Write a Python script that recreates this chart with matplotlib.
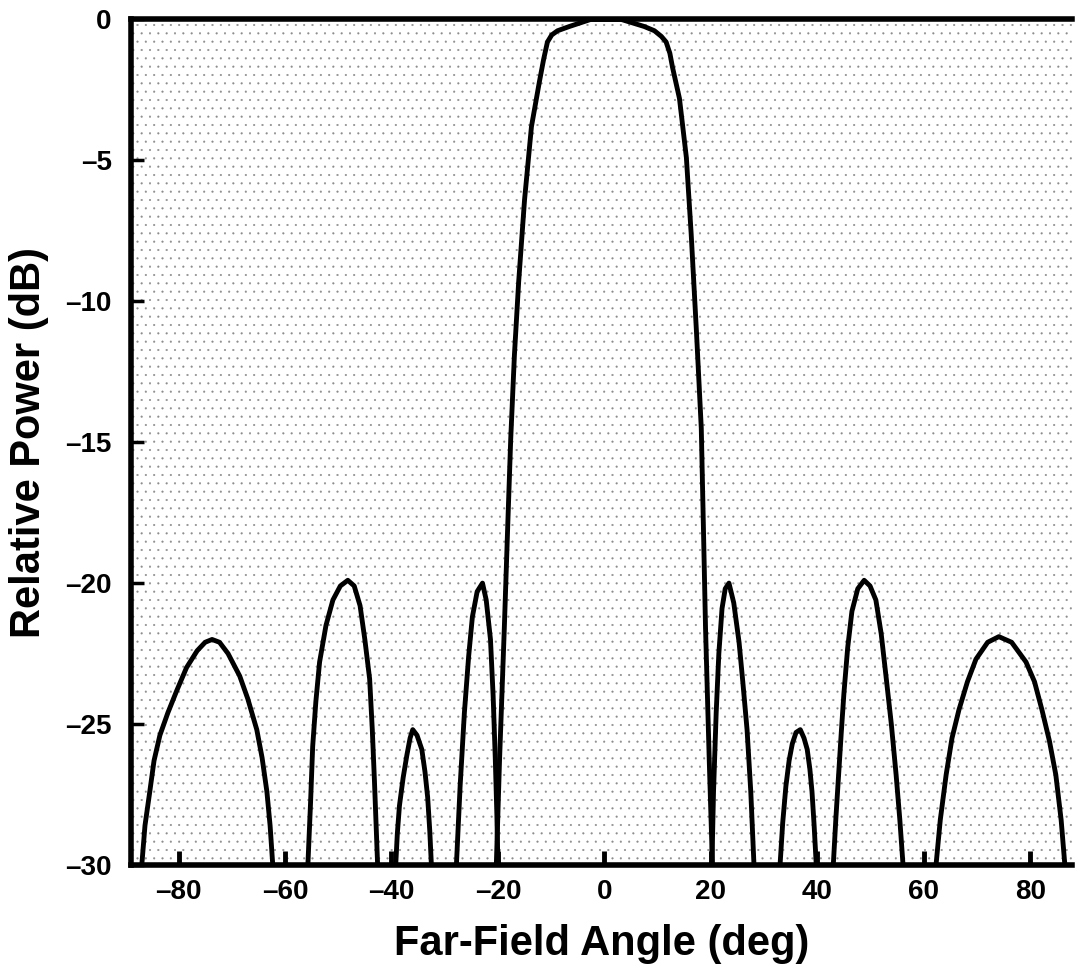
import numpy as np
import matplotlib
matplotlib.use("Agg")
from matplotlib import pyplot as plt

plt.rcParams['font.family'] = ['Liberation Sans', 'DejaVu Sans']
plt.rcParams['hatch.color'] = '0.55'
plt.rcParams['hatch.linewidth'] = 0.3

# far-field pattern, one list per lobe
main_ang = [-20.3, -19.7, -18.8, -18.2, -17.6, -16.9, -16.1, -15.0, -13.7, -12.2, -11.4, -10.7,
            -9.9, -8.8, -6.6, -2.6, 3.2, 7.5, 9.4, 10.7, 11.6, 12.3, 12.8, 14.1, 15.4, 16.3,
            17.3, 18.2, 18.6, 19.0, 19.7, 20.3]
main_pwr = [-30, -26.3, -21.6, -18.2, -14.9, -11.9, -9.3, -6.4, -3.8, -2.2, -1.4, -0.8,
            -0.55, -0.4, -0.25, 0, 0, -0.25, -0.4, -0.6, -0.8, -1.2, -1.7, -2.8, -4.9, -7.6,
            -11.1, -14.5, -18.0, -21.6, -26.3, -30]

left_ang = [
    [-86.9, -86.3, -85.4, -84.6, -83.5, -82.0, -80.3, -78.5, -76.5, -75.0, -73.7, -72.3,
     -70.7, -68.5, -67.0, -65.3, -64.3, -63.4, -62.8, -62.3],
    [-55.7, -55.2, -54.8, -54.2, -53.5, -52.3, -51.0, -49.6, -48.2, -47.0, -45.9, -45.0,
     -44.1, -43.6, -43.2, -42.6],
    [-39.2, -38.9, -38.5, -37.8, -37.1, -36.5, -36.0, -35.2, -34.3, -33.7, -33.2, -32.8, -32.5],
    [-27.8, -27.1, -26.3, -25.5, -24.8, -23.9, -22.9, -22.2, -21.4, -20.9, -20.5, -20.2, -20.0],
]
left_pwr = [
    [-30, -28.6, -27.4, -26.3, -25.4, -24.6, -23.8, -23.0, -22.4, -22.1, -22.0, -22.1,
     -22.5, -23.3, -24.1, -25.2, -26.2, -27.4, -28.6, -30],
    [-30, -27.8, -25.8, -24.2, -22.8, -21.5, -20.6, -20.1, -19.9, -20.1, -20.8, -22.0,
     -23.4, -25.2, -27.0, -30],
    [-30, -28.9, -27.9, -26.9, -26.1, -25.5, -25.2, -25.4, -25.9, -26.7, -27.6, -28.8, -30],
    [-30, -27.2, -24.6, -22.6, -21.2, -20.3, -20.0, -20.6, -22.0, -24.0, -26.2, -28.2, -30],
]
right_ang = [
    [20.2, 20.5, 21.0, 21.5, 22.1, 22.7, 23.4, 24.3, 25.3, 26.0, 26.8, 27.5, 28.1],
    [33.0, 33.5, 34.1, 34.7, 35.3, 36.0, 36.8, 37.5, 38.1, 38.6, 39.0, 39.4, 39.8],
    [43.0, 43.5, 44.0, 44.5, 45.0, 45.7, 46.5, 47.6, 48.8, 49.9, 51.0, 52.0, 52.9, 53.9,
     54.8, 55.5, 56.1],
    [62.3, 63.1, 64.2, 65.3, 66.6, 68.2, 69.8, 72.0, 74.1, 76.5, 79.2, 80.8, 82.2, 83.6,
     84.8, 85.8, 86.5],
]
right_pwr = [
    [-30, -27.4, -24.6, -22.5, -20.9, -20.2, -20.0, -20.7, -22.1, -23.5, -25.2, -27.4, -30],
    [-30, -28.5, -27.2, -26.3, -25.7, -25.3, -25.2, -25.5, -25.9, -26.6, -27.4, -28.6, -30],
    [-30, -28.3, -26.8, -25.3, -23.9, -22.3, -21.0, -20.2, -19.9, -20.1, -20.6, -21.8, -23.3,
     -25.0, -26.8, -28.4, -30],
    [-30, -28.4, -26.8, -25.5, -24.5, -23.5, -22.7, -22.1, -21.9, -22.1, -22.8, -23.5, -24.5,
     -25.6, -26.8, -28.4, -30],
]

x_ticks = [-80, -60, -40, -20, 0, 20, 40, 60, 80]
y_ticks = [0, -5, -10, -15, -20, -25, -30]

fig = plt.figure(figsize=(10.75, 9.74), dpi=100)
ax = fig.add_axes([0.122, 0.112, 0.875, 0.868])

# stippled background
ax.patch.set_facecolor('white')
ax.patch.set_hatch('..')
ax.patch.set_edgecolor('0.55')
ax.patch.set_linewidth(0)

lw = 3.5
ax.plot(main_ang, main_pwr, color='black', lw=lw, solid_joinstyle='round')
for a, p in zip(left_ang, left_pwr):
    ax.plot(a, p, color='black', lw=lw, solid_joinstyle='round')
for a, p in zip(right_ang, right_pwr):
    ax.plot(a, p, color='black', lw=lw, solid_joinstyle='round')

ax.set_xlim(-88.9, 87.8)
ax.set_ylim(-30, 0)
ax.set_xticks(x_ticks)
ax.set_yticks(y_ticks)
ax.set_xticklabels([str(v).replace('-', '\u2013') for v in x_ticks])
ax.set_yticklabels([str(v).replace('-', '\u2013') for v in y_ticks])

ax.spines['right'].set_visible(False)
for s in ['left', 'top', 'bottom']:
    ax.spines[s].set_linewidth(4)

ax.tick_params(axis='x', direction='in', width=3.5, length=10, labelsize=20, pad=10)
ax.tick_params(axis='y', direction='in', width=2.5, length=9, labelsize=20, pad=14)
for lab in ax.get_xticklabels() + ax.get_yticklabels():
    lab.set_fontweight('bold')

ax.set_xlabel('Far-Field Angle (deg)', fontsize=30, fontweight='bold', labelpad=14)
ax.set_ylabel('Relative Power (dB)', fontsize=30, fontweight='bold', labelpad=12)

plt.savefig('out.png', dpi=100)
